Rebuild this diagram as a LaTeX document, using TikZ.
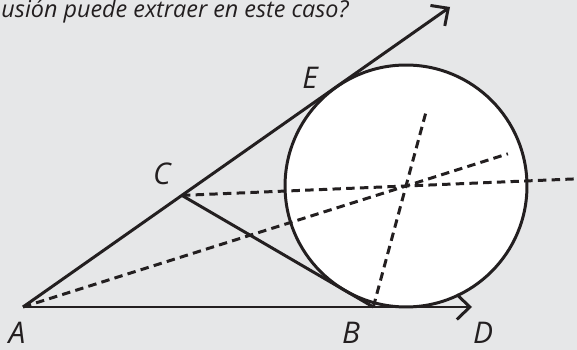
\documentclass[tikz,border=0pt]{standalone}
\usepackage{fontspec}
\setmainfont{Open Sans}
\usetikzlibrary{arrows.meta, calc}
\definecolor{panel}{RGB}{230,231,232}
\definecolor{ink}{RGB}{35,31,32}

\begin{document}
\begin{tikzpicture}[
  x=0.02cm, y=-0.02cm,
  line/.style={draw=ink, line width=1.7pt},
  ray/.style={line, -{Straight Barb[length=0.26cm, width=0.5cm]}},
  aux/.style={draw=ink, line width=1.7pt, dash pattern=on 4.8pt off 3pt},
  lbl/.style={font=\fontsize{17}{20}\selectfont\itshape, text=ink, inner sep=0pt}
]
\useasboundingbox (0,0) rectangle (577,350);
\fill[panel] (0,0) rectangle (577,350);
\clip (0,0) rectangle (577,350);

% Points
\coordinate (A) at (23,307);
\coordinate (I) at (406,186);
\coordinate (F) at (450,7);
\coordinate (D) at (472,307);
\coordinate (C) at (181.9,195.4);
\coordinate (B) at (373.3,307);

% Circle
\draw[line, fill=white] (I) circle[radius=2.42cm];

% Lines
\draw[ray] (A) -- (F);
\draw[ray] (A) -- (D);
\draw[line] (C) -- (B);

% Dashed lines
\draw[aux] (C) -- ($(C)!1.8!(I)$);
\draw[aux] (A) -- ($(A)!1.266!(I)$);
\draw[aux] (B) -- ($(B)!1.6!(I)$);

% Labels
\node[lbl] (labA) at (17,333) {A};
\node[lbl] (labB) at (351,333) {B};
\node[lbl] (labC) at (162,174) {C};
\node[lbl] (labD) at (483,333) {D};
\node[lbl] (labE) at (310,78) {E};
\node[anchor=base east, font=\fontsize{13.3}{16}\selectfont\itshape, text=ink, inner sep=0pt] (question) at (349,18) {usión puede extraer en este caso?};

\end{tikzpicture}
\end{document}
